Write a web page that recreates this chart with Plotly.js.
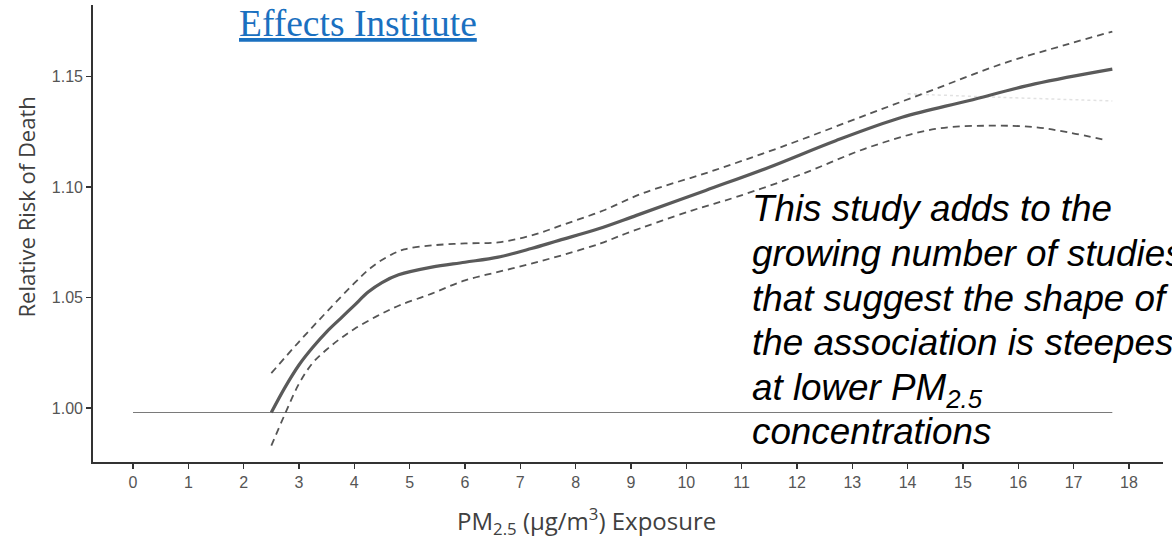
<!DOCTYPE html>
<html>
<head>
<meta charset="utf-8">
<script src="https://cdn.plot.ly/plotly-3.0.1.min.js"></script>
<style>
html,body{margin:0;padding:0;background:#fff;}
#chart{width:1172px;height:537px;}
</style>
</head>
<body>
<div id="chart"></div>
<script>
// ---- data ----
const estX = [2.5, 2.75, 3.0, 3.25, 3.5, 3.75, 4.0, 4.25, 4.5, 4.8, 5.4, 6.0, 6.6, 7.2, 7.7, 8.4, 9.1, 10.35, 11.5, 12.7, 13.9, 15.1, 16.3, 17.7];
const estY = [0.998, 1.0095, 1.0195, 1.0275, 1.0345, 1.0405, 1.0465, 1.0525, 1.0568, 1.0603, 1.0638, 1.066, 1.0683, 1.0722, 1.0759, 1.081, 1.0872, 1.0985, 1.109, 1.121, 1.1316, 1.1391, 1.1467, 1.1534];

const upX = [2.5, 3.0, 3.5, 4.0, 4.3, 4.6, 4.9, 5.4, 6.0, 6.6, 7.2, 7.8, 8.5, 9.2, 10.4, 11.7, 13.3, 14.5, 15.7, 16.9, 17.7];
const upY = [1.0158, 1.030, 1.0435, 1.0565, 1.0635, 1.0685, 1.0718, 1.0736, 1.0745, 1.075, 1.0781, 1.0832, 1.0894, 1.0971, 1.1067, 1.118, 1.1331, 1.1444, 1.1557, 1.1647, 1.1704];

const loX = [2.5, 2.75, 3.0, 3.25, 3.5, 3.75, 4.0, 4.4, 4.8, 5.4, 6.0, 6.6, 7.2, 7.8, 8.45, 8.9, 10.1, 10.9, 12.1, 13.3, 14.5, 15.5, 16.3, 16.9, 17.6];
const loY = [0.983, 0.9975, 1.011, 1.0205, 1.0265, 1.0315, 1.0358, 1.0415, 1.0463, 1.0518, 1.0578, 1.0616, 1.0654, 1.0695, 1.0745, 1.0789, 1.0894, 1.0955, 1.106, 1.118, 1.1263, 1.1278, 1.1271, 1.1248, 1.1211];

const faintX = [14.0, 15.7, 17.7];
const faintY = [1.1422, 1.1406, 1.139];

const refX = [0, 17.7];
const refY = [0.998, 0.998];

const xTicks = [0,1,2,3,4,5,6,7,8,9,10,11,12,13,14,15,16,17,18];
const yTicks = [1.00, 1.05, 1.10, 1.15];
const yTickText = ["1.00", "1.05", "1.10", "1.15"];

const noteLines = [
  "This study adds to the",
  "growing number of studies",
  "that suggest the shape of",
  "the association is steepest",
  "at lower PM<sub>2.5</sub>",
  "concentrations"
];
const sourceText = "<u>Effects Institute</u>";
const xTitle = "PM<sub>2.5</sub> (µg/m<sup>3</sup>) Exposure";
const yTitle = "Relative Risk of Death";

// ---- layout helpers (pixel geometry of the plot area) ----
const M = {l: 93, r: 9, t: 5, b: 75};
const W = 1172, H = 537;
const pw = W - M.l - M.r, ph = H - M.t - M.b;
const px2x = p => (p - M.l) / pw;
const px2y = p => (H - M.b - p) / ph;

const traces = [
  {x: refX, y: refY, mode: 'lines', line: {color: '#7a7a7a', width: 1.2}, hoverinfo: 'skip'},
  {x: faintX, y: faintY, mode: 'lines', line: {color: '#e2e2e2', width: 1.5, dash: 'dot', shape: 'spline'}, hoverinfo: 'skip'},
  {x: upX, y: upY, mode: 'lines', line: {color: '#555555', width: 1.8, dash: '7px,5px', shape: 'spline', smoothing: 1}},
  {x: loX, y: loY, mode: 'lines', line: {color: '#555555', width: 1.8, dash: '7px,5px', shape: 'spline', smoothing: 1}},
  {x: estX, y: estY, mode: 'lines', line: {color: '#5a5a5a', width: 3.2, shape: 'spline', smoothing: 1}}
];

const noteSize = 36.8;
const noteFirstBaseline = 221.7, noteLineStep = 44.6;
const annotations = noteLines.map((t, i) => ({
  text: t, xref: 'paper', yref: 'paper',
  x: px2x(750), y: px2y(noteFirstBaseline + i * noteLineStep - 0.905 * noteSize - 2),
  xanchor: 'left', yanchor: 'top', showarrow: false, align: 'left',
  font: {family: 'Liberation Sans, Arial, sans-serif', size: noteSize, color: '#000000', style: 'italic'}
}));
annotations.push({
  text: sourceText, xref: 'paper', yref: 'paper',
  x: px2x(237), y: px2y(1),
  xanchor: 'left', yanchor: 'top', showarrow: false,
  font: {family: 'Liberation Serif, Times New Roman, serif', size: 37.5, color: '#1a70c0'}
});
annotations.push({
  text: yTitle, xref: 'paper', yref: 'paper',
  x: px2x(25), y: px2y(207.5), textangle: -90,
  xanchor: 'center', yanchor: 'middle', showarrow: false,
  font: {family: 'Open Sans, sans-serif', size: 22, color: '#404040'}
});
annotations.push({
  text: xTitle, xref: 'paper', yref: 'paper',
  x: px2x(586), y: px2y(521),
  xanchor: 'center', yanchor: 'middle', showarrow: false,
  font: {family: 'Open Sans, sans-serif', size: 24, color: '#404040'}
});

const axisCommon = {
  showgrid: false, zeroline: false,
  showline: true, linecolor: '#333333', linewidth: 1.8,
  ticks: 'outside', ticklen: 5, tickwidth: 1.2, tickcolor: '#333333',
  tickfont: {family: 'Liberation Sans, Arial, sans-serif', size: 16, color: '#555555'}
};

const layout = {
  width: W, height: H,
  margin: M,
  paper_bgcolor: '#ffffff', plot_bgcolor: '#ffffff',
  showlegend: false,
  xaxis: Object.assign({range: [-0.723, 18.616], tickvals: xTicks, ticktext: xTicks.map(String)}, axisCommon),
  yaxis: Object.assign({range: [0.9756, 1.1824], tickvals: yTicks, ticktext: yTickText}, axisCommon),
  annotations: annotations
};

Plotly.newPlot('chart', traces, layout, {displayModeBar: false, staticPlot: true});
</script>
</body>
</html>
